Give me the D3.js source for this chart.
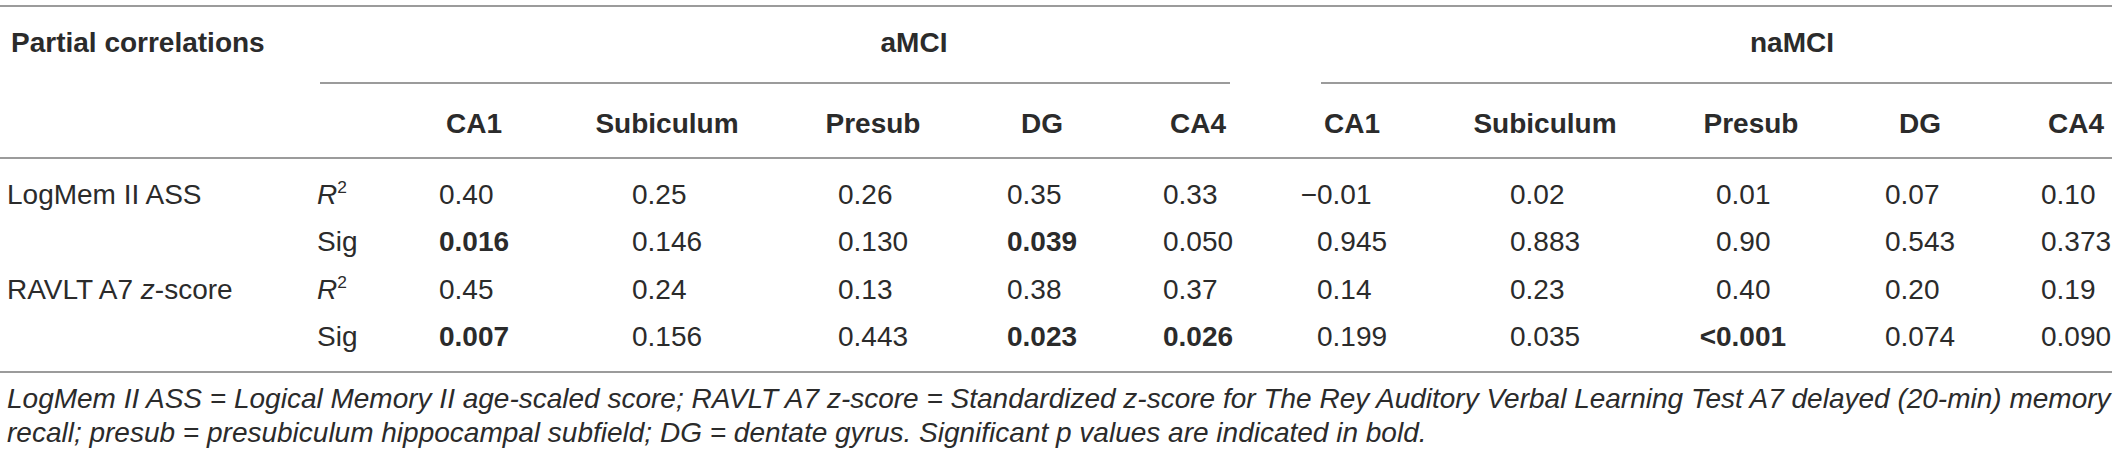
<!DOCTYPE html>
<html>
<head>
<meta charset="utf-8">
<script src="https://cdn.jsdelivr.net/npm/d3@7"></script>
<style>
  body { margin: 0; background: #fff; }
  text { font-family: "Liberation Sans", Arial, sans-serif; }
</style>
</head>
<body>
<div id="table"></div>
<script>
// table content
const groups = ["aMCI", "naMCI"];
const regions = ["CA1", "Subiculum", "Presub", "DG", "CA4"];
const measures = ["LogMem II ASS", "RAVLT A7 z-score"];
const stats = ["R2", "Sig"];

// values per group, one array per measure/stat row, in region order
const amciLogR2 = ["0.40", "0.25", "0.26", "0.35", "0.33"];
const amciLogSig = ["0.016", "0.146", "0.130", "0.039", "0.050"];
const amciRavR2 = ["0.45", "0.24", "0.13", "0.38", "0.37"];
const amciRavSig = ["0.007", "0.156", "0.443", "0.023", "0.026"];
const namciLogR2 = ["\u22120.01", "0.02", "0.01", "0.07", "0.10"];
const namciLogSig = ["0.945", "0.883", "0.90", "0.543", "0.373"];
const namciRavR2 = ["0.14", "0.23", "0.40", "0.20", "0.19"];
const namciRavSig = ["0.199", "0.035", "<0.001", "0.074", "0.090"];

// significant p values (bold), as "row,col" with col 0-9
const boldCells = ["1,0", "1,3", "3,0", "3,3", "3,4", "3,7"];

const footnote = [
  "LogMem II ASS = Logical Memory II age-scaled score; RAVLT A7 z-score = Standardized z-score for The Rey Auditory Verbal Learning Test A7 delayed (20-min) memory",
  "recall; presub = presubiculum hippocampal subfield; DG = dentate gyrus. Significant p values are indicated in bold."
];

const rows = [
  amciLogR2.concat(namciLogR2),
  amciLogSig.concat(namciLogSig),
  amciRavR2.concat(namciRavR2),
  amciRavSig.concat(namciRavSig)
];

const width = 2119, height = 457;
const fs = 28;
const ink = "#2b2b2b", rule = "#7a7a7a";

const svg = d3.select("#table").append("svg")
    .attr("width", width)
    .attr("height", height);

// column centres: offset of each region inside its group + group start
const regionX = d3.scaleOrdinal().domain(regions).range([0, 193, 399, 568, 724]);
const groupX = d3.scaleOrdinal().domain(groups).range([474, 1352]);
const colKeys = [];
groups.forEach(g => regions.forEach(r => colKeys.push({g, r})));
const colX = i => groupX(colKeys[i].g) + regionX(colKeys[i].r);

// row baselines
const rowY = d3.scaleLinear().domain([0, 3]).range([204, 346]);

// horizontal rules
const rules = [
  {x1: 0, x2: 2112, y: 6},
  {x1: 320, x2: 1230, y: 83},
  {x1: 1321, x2: 2112, y: 83},
  {x1: 0, x2: 2112, y: 158},
  {x1: 0, x2: 2112, y: 372}
];
svg.selectAll("line.rule")
    .data(rules)
    .enter().append("line")
    .attr("class", "rule")
    .attr("x1", d => d.x1)
    .attr("x2", d => d.x2)
    .attr("y1", d => d.y)
    .attr("y2", d => d.y)
    .attr("stroke", rule)
    .attr("stroke-width", 1.6);

// top header
svg.append("text")
    .attr("x", 11).attr("y", 52)
    .attr("font-size", fs).attr("font-weight", "bold").attr("fill", ink)
    .text("Partial correlations");

svg.selectAll("text.group")
    .data(groups)
    .enter().append("text")
    .attr("class", "group")
    .attr("x", g => groupX(g) + regionX("Presub") + 41)
    .attr("y", 52)
    .attr("text-anchor", "middle")
    .attr("font-size", fs).attr("font-weight", "bold").attr("fill", ink)
    .text(g => g);

svg.selectAll("text.colhead")
    .data(colKeys)
    .enter().append("text")
    .attr("class", "colhead")
    .attr("x", (d, i) => colX(i))
    .attr("y", 133)
    .attr("text-anchor", "middle")
    .attr("font-size", fs).attr("font-weight", "bold").attr("fill", ink)
    .text(d => d.r);

// measure labels
svg.selectAll("text.measure")
    .data(measures)
    .enter().append("text")
    .attr("class", "measure")
    .attr("x", 7)
    .attr("y", (d, i) => rowY(i * 2))
    .attr("font-size", fs).attr("fill", ink)
    .each(function(d) {
        const t = d3.select(this);
        if (d.includes(" z-")) {
            const parts = d.split(" z-");
            t.append("tspan").text(parts[0] + " ");
            t.append("tspan").attr("font-style", "italic").text("z");
            t.append("tspan").text("-" + parts[1]);
        } else {
            t.text(d);
        }
    });

// stat labels
svg.selectAll("text.stat")
    .data(d3.range(4))
    .enter().append("text")
    .attr("class", "stat")
    .attr("x", 317)
    .attr("y", i => rowY(i))
    .attr("font-size", fs).attr("fill", ink)
    .each(function(i) {
        const t = d3.select(this);
        if (stats[i % 2] === "R2") {
            t.append("tspan").attr("font-style", "italic").text("R");
            t.append("tspan").attr("font-size", fs * 0.62).attr("dy", -11).text("2");
        } else {
            t.text("Sig");
        }
    });

// values: left aligned on the digits, leading sign hangs to the left
const cells = [];
rows.forEach((row, r) => row.forEach((v, c) => cells.push({r, c, v})));
svg.selectAll("text.cell")
    .data(cells)
    .enter().append("text")
    .attr("class", "cell")
    .attr("x", d => colX(d.c) - 35)
    .attr("y", d => rowY(d.r))
    .attr("font-size", fs)
    .attr("fill", ink)
    .attr("font-weight", d => boldCells.includes(d.r + "," + d.c) ? "bold" : null)
    .text(d => d.v)
    .each(function(d) {
        if (d.v[0] === "<" || d.v[0] === "\u2212") {
            const tmp = svg.append("text")
                .attr("font-size", fs)
                .attr("font-weight", boldCells.includes(d.r + "," + d.c) ? "bold" : null)
                .text(d.v[0]);
            const w = tmp.node().getComputedTextLength();
            tmp.remove();
            d3.select(this).attr("x", colX(d.c) - 35 - w);
        }
    });

// footnote
svg.selectAll("text.foot")
    .data(footnote)
    .enter().append("text")
    .attr("class", "foot")
    .attr("x", 7)
    .attr("y", (d, i) => 408 + i * 34)
    .attr("font-size", fs)
    .attr("font-style", "italic")
    .attr("fill", ink)
    .text(d => d);
</script>
</body>
</html>
